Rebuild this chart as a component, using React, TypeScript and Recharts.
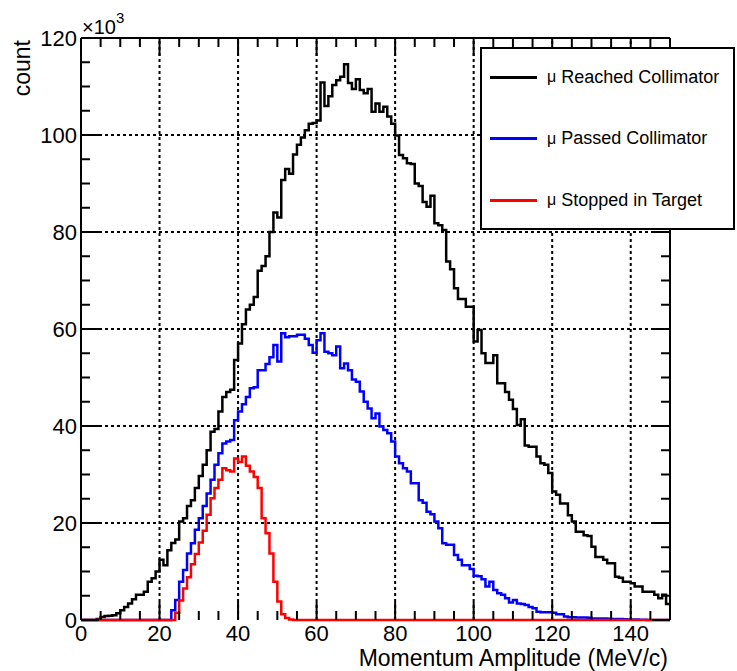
import { LineChart, Line, XAxis, YAxis, ReferenceLine, Legend } from 'recharts'

// histogram binning (MeV/c), counts in units of 10^3
const X_MIN = 0
const BIN_WIDTH = 1

const reached = [
  0, 0, 0, 0, 0.2, 0.6, 0.8, 0.9, 1.0, 1.4,
  2.0, 2.7, 3.4, 4.3, 5.2, 5.2, 5.8, 7.9, 8.6, 10.0,
  12.4, 11.3, 14.4, 15.9, 16.6, 20.3, 21.0, 23.5, 24.7, 27.2,
  29.7, 32.0, 35.0, 38.8, 39.4, 43.0, 46.0, 47.0, 47.5, 53.6,
  57.0, 61.0, 64.0, 65.0, 66.6, 72.0, 73.0, 75.0, 80.0, 84.0,
  83.0, 90.7, 93.0, 92.0, 96.0, 98.0, 99.5, 101.0, 102.3, 102.5,
  103.0, 110.8, 106.0, 108.0, 110.3, 111.3, 112.0, 114.6, 110.7, 109.5,
  111.5, 109.3, 108.6, 109.5, 104.8, 106.5, 104.8, 105.8, 103.8, 102.3,
  99.9, 95.9, 95.2, 94.2, 94.0, 90.0, 89.5, 86.2, 85.2, 87.5,
  81.8, 81.4, 80.4, 73.9, 72.3, 68.4, 66.2, 66.2, 64.6, 64.6,
  57.4, 59.8, 55.0, 53.0, 53.0, 54.6, 48.8, 48.8, 47.0, 45.4,
  43.5, 40.2, 41.4, 36.0, 35.7, 35.7, 33.7, 32.3, 32.0, 30.3,
  26.5, 25.8, 24.0, 24.0, 21.6, 20.3, 18.2, 18.2, 17.5, 17.3,
  15.1, 13.0, 13.0, 12.4, 11.7, 11.7, 8.9, 8.7, 7.9, 7.9,
  7.6, 6.9, 6.9, 5.8, 5.8, 5.8, 5.2, 4.5, 5.2, 3.3,
]

const passed = [
  0, 0, 0, 0, 0, 0, 0, 0, 0, 0,
  0, 0, 0, 0, 0, 0, 0, 0, 0, 0,
  0, 0, 0, 2.0, 4.1, 7.9, 10.3, 13.7, 15.8, 18.6,
  21.0, 23.5, 26.1, 28.9, 32.0, 34.4, 36.4, 36.8, 37.1, 41.2,
  43.0, 44.5, 46.0, 47.8, 48.0, 51.5, 51.5, 52.8, 54.2, 56.7,
  53.3, 59.1, 58.3, 58.5, 58.5, 58.8, 58.8, 58.0, 56.7, 55.1,
  57.7, 59.1, 55.3, 55.0, 54.6, 56.4, 51.9, 52.9, 51.5, 49.6,
  49.1, 47.1, 45.0, 43.6, 41.6, 42.6, 39.9, 39.2, 38.5, 36.8,
  33.7, 32.3, 31.3, 30.6, 28.2, 28.2, 24.7, 24.2, 22.3, 21.8,
  20.3, 18.9, 15.8, 15.5, 15.5, 13.4, 12.4, 11.3, 11.3, 10.5,
  9.1, 9.0, 8.4, 6.9, 7.9, 6.2, 5.5, 5.2, 4.5, 3.6,
  4.1, 3.4, 3.3, 3.1, 2.7, 2.4, 1.7, 1.6, 1.6, 1.6,
  1.5, 1.2, 1.2, 0.7, 0.55, 0.55, 0.5, 0.5, 0.5, 0.45,
  0.3, 0.3, 0.3, 0.3, 0.25, 0.2, 0.2, 0.2, 0.15, 0.1,
  0.1, 0.1, 0.05, 0.05, 0, 0, 0, 0, 0, 0,
]

const stopped = [
  0, 0, 0, 0, 0, 0, 0, 0, 0, 0,
  0, 0, 0, 0, 0, 0, 0, 0, 0, 0,
  0, 0, 0, 0, 1.5, 4.0, 6.5, 8.8, 11.5, 13.6,
  16.0, 18.4, 21.7, 25.1, 27.2, 28.9, 31.3, 30.9, 30.6, 33.3,
  32.6, 33.7, 31.8, 30.6, 29.5, 27.2, 21.0, 17.9, 13.7, 7.9,
  3.8, 1.2, 0.4, 0.1, 0, 0, 0, 0, 0, 0,
  0, 0, 0, 0, 0, 0, 0, 0, 0, 0,
  0, 0, 0, 0, 0, 0, 0, 0, 0, 0,
  0, 0, 0, 0, 0, 0, 0, 0, 0, 0,
  0, 0, 0, 0, 0, 0, 0, 0, 0, 0,
  0, 0, 0, 0, 0, 0, 0, 0, 0, 0,
  0, 0, 0, 0, 0, 0, 0, 0, 0, 0,
  0, 0, 0, 0, 0, 0, 0, 0, 0, 0,
  0, 0, 0, 0, 0, 0, 0, 0, 0, 0,
  0, 0, 0, 0, 0, 0, 0, 0, 0, 0,
]

const xTicks = [0, 5, 10, 15, 20, 25, 30, 35, 40, 45, 50, 55, 60, 65, 70, 75, 80, 85, 90, 95, 100, 105, 110, 115, 120, 125, 130, 135, 140, 145, 150]
const yTicks = [0, 5, 10, 15, 20, 25, 30, 35, 40, 45, 50, 55, 60, 65, 70, 75, 80, 85, 90, 95, 100, 105, 110, 115, 120]
const gridX = [20, 40, 60, 80, 100, 120, 140]
const gridY = [20, 40, 60, 80, 100]

const series = [
  { key: 'reached', name: 'Reached Collimator', color: '#000000' },
  { key: 'passed', name: 'Passed Collimator', color: '#0000ff' },
  { key: 'stopped', name: 'Stopped in Target', color: '#ff0000' },
]

// one point per bin low edge, plus the closing edge of the last bin
const data = reached.map((v, i) => ({
  x: X_MIN + i * BIN_WIDTH,
  reached: v,
  passed: passed[i],
  stopped: stopped[i],
}))
data.push({
  x: X_MIN + reached.length * BIN_WIDTH,
  reached: reached[reached.length - 1],
  passed: passed[passed.length - 1],
  stopped: stopped[stopped.length - 1],
})

const W = 737
const H = 671
const PLOT_LEFT = 81
const PLOT_RIGHT = 670
const PLOT_TOP = 38
const PLOT_BOTTOM = 620
const FONT = '"Liberation Sans", Arial, Helvetica, sans-serif'

function XTick(props: any) {
  const { x, y, payload } = props
  const v = payload.value
  const major = v % 20 === 0
  const len = major ? 18 : 9
  return (
    <g>
      <line x1={x} x2={x} y1={y} y2={y - len} stroke="#000" strokeWidth={2} />
      <line x1={x} x2={x} y1={PLOT_TOP} y2={PLOT_TOP + len} stroke="#000" strokeWidth={2} />
      {major && (
        <text x={x} y={y + 21} textAnchor="middle" fontSize={22} fontFamily={FONT} fill="#000">
          {v}
        </text>
      )}
    </g>
  )
}

function YTick(props: any) {
  const { x, y, payload } = props
  const v = payload.value
  const major = v % 20 === 0
  const len = major ? 18 : 9
  return (
    <g>
      <line x1={x} x2={x + len} y1={y} y2={y} stroke="#000" strokeWidth={2} />
      <line x1={PLOT_RIGHT} x2={PLOT_RIGHT - len} y1={y} y2={y} stroke="#000" strokeWidth={2} />
      {major && (
        <text x={x - 4} y={y + 8} textAnchor="end" fontSize={22} fontFamily={FONT} fill="#000">
          {v}
        </text>
      )}
    </g>
  )
}

function YTitle() {
  return (
    <g fontFamily={FONT} fill="#000">
      <text x={30} y={40} transform="rotate(-90 30 40)" textAnchor="end" fontSize={23}>
        count
      </text>
      <text x={82} y={34} fontSize={20}>
        ×10
        <tspan dy={-11} fontSize={15}>3</tspan>
      </text>
    </g>
  )
}

function XTitle() {
  return (
    <text x={668} y={666} textAnchor="end" fontSize={23} fontFamily={FONT} fill="#000">
      Momentum Amplitude (MeV/c)
    </text>
  )
}

function LegendBox() {
  return (
    <div
      style={{
        position: 'relative',
        boxSizing: 'border-box',
        width: '100%',
        height: '100%',
        background: '#fff',
        border: '2px solid #000',
        fontFamily: FONT,
        fontSize: 18,
        color: '#000',
      }}
    >
      {series.map((s, i) => (
        <div
          key={s.key}
          style={{
            position: 'absolute',
            left: 0,
            top: 28 + i * 61.5 - 11,
            height: 22,
            display: 'flex',
            alignItems: 'center',
            whiteSpace: 'nowrap',
          }}
        >
          <div style={{ width: 47, height: 3, background: s.color, marginLeft: 8, marginRight: 10 }} />
          <span style={{ fontSize: 16 }}>μ</span>
          <span>&nbsp;{s.name}</span>
        </div>
      ))}
    </div>
  )
}

export default function App() {
  return (
    <div style={{ width: W, height: H, background: '#fff' }}>
      <style>{'body{margin:0}'}</style>
      <LineChart
        width={W}
        height={H}
        data={data}
        margin={{ top: PLOT_TOP, right: W - PLOT_RIGHT, bottom: 0, left: 0 }}
      >
        {gridX.map((v) => (
          <ReferenceLine key={'gx' + v} x={v} stroke="#000" strokeWidth={2} strokeDasharray="3 3" />
        ))}
        {gridY.map((v) => (
          <ReferenceLine key={'gy' + v} y={v} stroke="#000" strokeWidth={2} strokeDasharray="3 3" />
        ))}
        <ReferenceLine y={120} stroke="#000" strokeWidth={2} />
        <ReferenceLine x={150} stroke="#000" strokeWidth={2} />
        <XAxis
          dataKey="x"
          type="number"
          domain={[0, 150]}
          ticks={xTicks}
          interval={0}
          tickSize={0}
          tickMargin={0}
          tickLine={false}
          tick={<XTick />}
          axisLine={false}
          height={H - PLOT_BOTTOM}
          label={<XTitle />}
        />
        <YAxis
          type="number"
          domain={[0, 120]}
          ticks={yTicks}
          interval={0}
          tickSize={0}
          tickMargin={0}
          tickLine={false}
          tick={<YTick />}
          axisLine={{ stroke: '#000', strokeWidth: 2 }}
          width={PLOT_LEFT}
          label={<YTitle />}
        />
        {series.map((s) => (
          <Line
            key={s.key}
            type="stepAfter"
            dataKey={s.key}
            name={s.name}
            stroke={s.color}
            strokeWidth={2.5}
            dot={false}
            activeDot={false}
            isAnimationActive={false}
          />
        ))}
        <Legend
          layout="vertical"
          align="center"
          verticalAlign="middle"
          content={() => <LegendBox />}
          wrapperStyle={{ left: 480, top: 47, width: 255, height: 183 }}
        />
      </LineChart>
    </div>
  )
}
